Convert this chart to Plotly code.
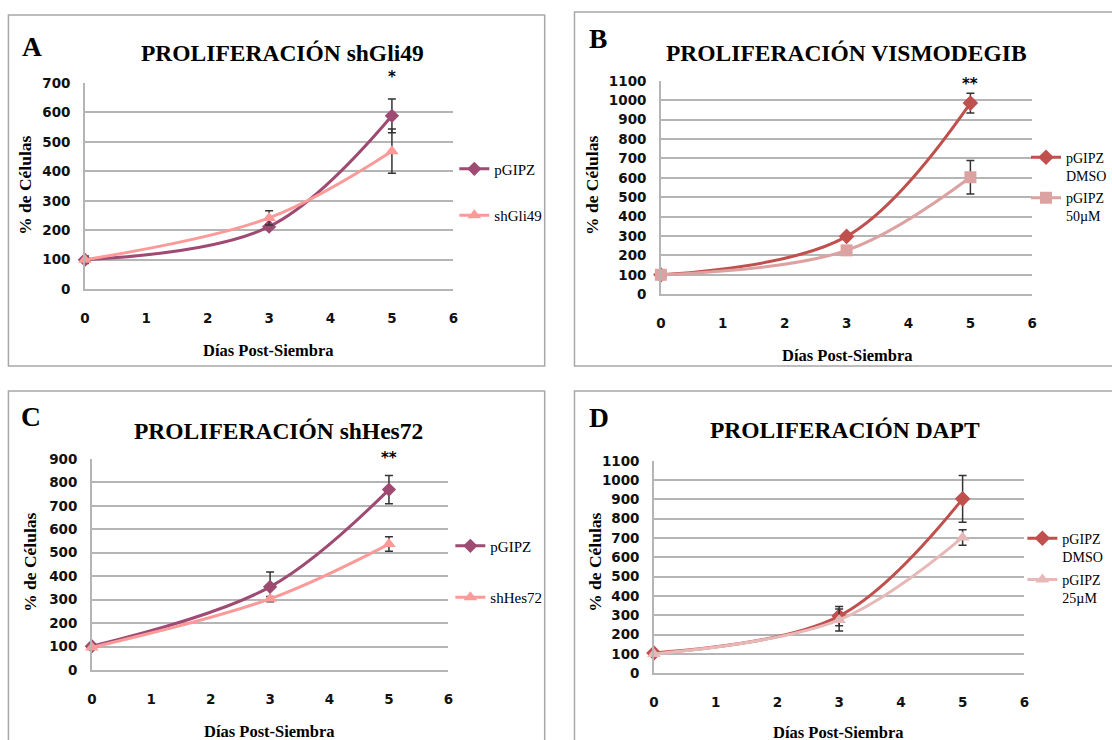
import plotly.graph_objects as go

W, H = 1112, 740

days = [0, 3, 5]
x_ticks = [0, 1, 2, 3, 4, 5, 6]

# Panel A - shGli49
a_pgipz = [100, 212, 588]
a_pgipz_err = [13, 8, 57]
a_sh = [100, 242, 468]
a_sh_err = [8, 24, 75]

# Panel B - Vismodegib
b_dmso = [100, 298, 985]
b_dmso_err = [8, 10, 51]
b_vismo = [100, 226, 603]
b_vismo_err = [8, 10, 86]

# Panel C - shHes72
c_pgipz = [102, 355, 769]
c_pgipz_err = [8, 63, 60]
c_sh = [97, 304, 537]
c_sh_err = [6, 10, 31]

# Panel D - DAPT
d_dmso = [105, 296, 903]
d_dmso_err = [8, 50, 121]
d_dapt = [100, 276, 703]
d_dapt_err = [6, 57, 40]

titles = ["PROLIFERACIÓN shGli49", "PROLIFERACIÓN VISMODEGIB",
          "PROLIFERACIÓN shHes72", "PROLIFERACIÓN DAPT"]
letters = ["A", "B", "C", "D"]
y_max = [700, 1100, 900, 1100]
signif = ["*", "**", "**", ""]

# correction between layout pixels and photographed pixels
SX, AX = 0.9807, 5.55
SY, AY = 0.981, 7.0


def X(px):
    return ((px - AX) / SX) / W


def Y(py):
    return 1 - ((py - AY) / SY) / H


MAUVE = "#9e4a72"
PINK = "#fc9a9a"
RED = "#c0504d"
ROSE = "#dca2a1"
LROSE = "#e6b9b8"
ERR = "#333333"

fig = go.Figure()


def add(x, y, err, name, color, symbol, size, k, legend, group):
    fig.add_trace(go.Scatter(
        x=x, y=y, mode="lines+markers", name=name,
        line=dict(color=color, width=3, shape="spline", smoothing=1.0),
        marker=dict(symbol=symbol, size=size, color=color),
        error_y=dict(type="data", array=err, visible=True, color=ERR,
                     thickness=1.5, width=4),
        xaxis="x" if k == 1 else f"x{k}", yaxis="y" if k == 1 else f"y{k}",
        legend=legend, legendgroup=group, cliponaxis=False,
    ))


add(days, a_pgipz, a_pgipz_err, "pGIPZ", MAUVE, "diamond", 11, 1, "legend", "a1")
add(days, a_sh, a_sh_err, "shGli49", PINK, "triangle-up", 12, 1, "legend", "a2")
add(days, b_dmso, b_dmso_err, "pGIPZ<br>DMSO", RED, "diamond", 12, 2, "legend2", "b1")
add(days, b_vismo, b_vismo_err, "pGIPZ<br>50µM", ROSE, "square", 12, 2, "legend2", "b2")
add(days, c_pgipz, c_pgipz_err, "pGIPZ", MAUVE, "diamond", 11, 3, "legend3", "c1")
add(days, c_sh, c_sh_err, "shHes72", PINK, "triangle-up", 12, 3, "legend3", "c2")
add(days, d_dmso, d_dmso_err, "pGIPZ<br>DMSO", RED, "diamond", 12, 4, "legend4", "d1")
add(days, d_dapt, d_dapt_err, "pGIPZ<br>25µM", LROSE, "triangle-up", 12, 4, "legend4", "d2")

# layout positions in picture pixels
boxes = [(86, 457, 289, 82), (666, 1040, 294, 80),
         (93, 452, 671, 459), (659, 1032, 674, 461)]
frames = [(9, 14, 549, 366), (579, 11, 1150, 366),
          (9, 391, 549, 770), (579, 391, 1150, 770)]
title_pos = [(285, 52), (853, 52), (281, 431), (851, 430)]
letter_pos = [(33, 46), (603, 38), (32, 417), (604, 418)]
ytitle_pos = [(25, 185), (596, 185), (30, 563), (599, 563)]
xtitle_pos = [(271, 350), (854, 355), (272, 732), (845, 733)]
signif_pos = [76, 83, 458, 0]
legend_pos = [(458, 152, 24, 15), (1034, 141, 1, 14),
              (454, 530, 29, 15), (1030, 523, 2, 14)]

GRID = "#b5b5b5"
tickfont = dict(family="DejaVu Sans", size=13.5, color="#111111", weight="bold")
serif = "Liberation Serif"

layout = dict(width=W, height=H, margin=dict(l=0, r=0, t=0, b=0),
              paper_bgcolor="white", plot_bgcolor="white", showlegend=True)
annotations = []
shapes = []
for i in range(4):
    k = i + 1
    x0, x6, yb, yt = boxes[i]
    xs = "xaxis" if k == 1 else f"xaxis{k}"
    ys = "yaxis" if k == 1 else f"yaxis{k}"
    layout[xs] = dict(domain=[X(x0), X(x6)], range=[0, 6], tickvals=x_ticks,
                      showgrid=False, zeroline=False, showline=True,
                      linecolor=GRID, linewidth=1.5, ticks="",
                      ticklabelstandoff=16, tickfont=tickfont,
                      anchor="y" if k == 1 else f"y{k}", fixedrange=True)
    layout[ys] = dict(domain=[Y(yb), Y(yt)], range=[0, y_max[i]], dtick=100,
                      showgrid=True, gridcolor=GRID, gridwidth=1.5,
                      zeroline=False, showline=True, linecolor=GRID,
                      linewidth=1.5, ticks="", ticklabelstandoff=10,
                      tickfont=tickfont,
                      anchor="x" if k == 1 else f"x{k}", fixedrange=True)
    fx0, fy0, fx1, fy1 = frames[i]
    shapes.append(dict(type="rect", xref="paper", yref="paper",
                       x0=X(fx0), x1=X(fx1), y0=Y(fy1), y1=Y(fy0),
                       line=dict(color="#a8a8a8", width=1.5), layer="below"))
    tx, ty = title_pos[i]
    annotations.append(dict(text=titles[i], x=X(tx), y=Y(ty), xref="paper", yref="paper",
                            showarrow=False, xanchor="center", yanchor="middle",
                            font=dict(family=serif, size=23.5, color="black", weight="bold")))
    lx, ly = letter_pos[i]
    annotations.append(dict(text=letters[i], x=X(lx), y=Y(ly), xref="paper", yref="paper",
                            showarrow=False, xanchor="center", yanchor="middle",
                            font=dict(family=serif, size=27.5, color="black", weight="bold")))
    yx, yy = ytitle_pos[i]
    annotations.append(dict(text="% de Células", x=X(yx), y=Y(yy), xref="paper", yref="paper",
                            showarrow=False, xanchor="center", yanchor="middle", textangle=-90,
                            font=dict(family=serif, size=17.5, color="black", weight="bold")))
    xx, xy = xtitle_pos[i]
    annotations.append(dict(text="Días Post-Siembra", x=X(xx), y=Y(xy), xref="paper", yref="paper",
                            showarrow=False, xanchor="center", yanchor="middle",
                            font=dict(family=serif, size=16.5, color="black", weight="bold")))
    if signif[i]:
        annotations.append(dict(text=signif[i], x=5, y=Y(signif_pos[i]),
                                xref="x" if k == 1 else f"x{k}", yref="paper",
                                showarrow=False, xanchor="center", yanchor="middle",
                                font=dict(family="DejaVu Sans", size=15, color="black",
                                          weight="bold")))
    gx, gy, gap, fs = legend_pos[i]
    lname = "legend" if k == 1 else f"legend{k}"
    layout[lname] = dict(x=X(gx), y=Y(gy), xref="paper", yref="paper",
                         xanchor="left", yanchor="top", bgcolor="rgba(0,0,0,0)",
                         font=dict(family=serif, size=fs, color="black"),
                         tracegroupgap=gap, itemwidth=30, valign="top",
                         itemclick=False, itemdoubleclick=False)

layout["annotations"] = annotations
layout["shapes"] = shapes
fig.update_layout(**layout)
fig.write_html(
    "out.html",
    config={"displayModeBar": False},
    post_script="document.body.style.margin='0';document.body.style.overflow='hidden';",
)
